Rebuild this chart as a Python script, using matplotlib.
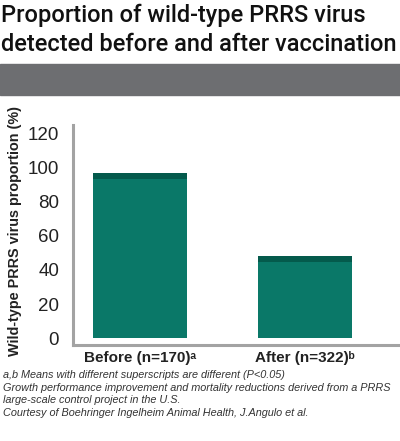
import matplotlib.pyplot as plt
import numpy as np

plt.rcParams['font.family'] = ['Liberation Sans', 'DejaVu Sans']

categories = ['Before (n=170)ᵃ', 'After (n=322)ᵇ']
values = [97, 48]
yticks = [0, 20, 40, 60, 80, 100, 120]

title = 'Proportion of wild-type PRRS virus\ndetected before and after vaccination'
ylabel = 'Wild-type PRRS virus proportion (%)'
notes = ['a,b Means with different superscripts are different (P<0.05)',
         'Growth performance improvement and mortality reductions derived from a PRRS',
         'large-scale control project in the U.S.',
         'Courtesy of Boehringer Ingelheim Animal Health, J.Angulo et al.']

W, H = 400, 441
fig = plt.figure(figsize=(W / 100, H / 100), dpi=100)

def fy(py):
    return 1 - py / H

# title
fig.text(1 / W, fy(4), title, ha='left', va='top', fontsize=17,
         linespacing=1.3, color='#111111', family=['Roboto', 'DejaVu Sans'],
         fontweight='medium')

# grey band
fig.patches.append(plt.Rectangle((0, fy(95)), 1, 31 / H, transform=fig.transFigure,
                                 color='#6d6e71', zorder=0))

ax = fig.add_axes([73 / W, fy(345), 1 - 73 / W, (345 - 125) / H])
x = np.arange(len(values))
green = '#0a7868'
dark = '#045a4c'
ax.bar(x, values, width=0.57, color=green, zorder=2)
ax.bar(x, [3.5] * len(values), bottom=np.array(values) - 3.5, width=0.57,
       color=dark, zorder=3)

ax.set_xlim(-0.406, 1.576)
ax.set_ylim(-4, 125)
ax.set_yticks(yticks)
ax.set_yticklabels([str(t) for t in yticks], fontsize=13.5, color='#222222')
ax.set_xticks(x)
ax.set_xticklabels(categories, fontsize=11, fontweight='bold', color='#222222')
ax.tick_params(axis='both', length=0)
ax.tick_params(axis='y', pad=10)
ax.tick_params(axis='x', pad=4)
for s in ['top', 'right']:
    ax.spines[s].set_visible(False)
for s in ['left', 'bottom']:
    ax.spines[s].set_color('#a3a3a3')
    ax.spines[s].set_linewidth(2.2)

fig.text(15 / W, fy(231), ylabel, rotation=90, ha='center', va='center',
         fontsize=10.4, fontweight='bold', color='#222222')

ys = [375, 388, 400, 413]
for t, py in zip(notes, ys):
    fig.text(3 / W, fy(py), t, ha='left', va='center', fontsize=7.8,
             style='italic', color='#333333')

fig.savefig('out.png', dpi=100)
